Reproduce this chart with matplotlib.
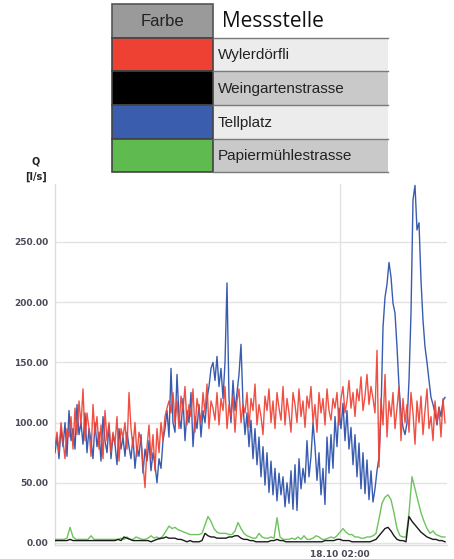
import matplotlib
matplotlib.use("Agg")
import matplotlib.pyplot as plt
from matplotlib.patches import Rectangle
import numpy as np

# ---------------- data ----------------
stations = ["Wylerdörfli", "Weingartenstrasse", "Tellplatz", "Papiermühlestrasse"]
station_colors = ["#ef4133", "#000000", "#3b5dae", "#5fba4f"]
line_colors = ["#ef4133", "#1a1a1a", "#3a5cb0", "#6cc45c"]

# sampling interval (time units) of the dense and the smooth series
step_dense = 2
step_smooth = 3
x_tick_pos = [285]
x_tick_labels = ["18.10 02:00"]
y_ticks = [0, 50, 100, 150, 200, 250]

red = [80, 92, 75, 100, 85, 70, 95, 88, 105, 78, 112, 90, 118, 98, 128, 85, 108, 95, 72, 115,
       90, 105, 78, 98, 70, 110, 85, 100, 75, 92, 82, 105, 68, 95, 88, 100, 78, 125, 95, 80,
       100, 72, 92, 85, 65, 46, 80, 98, 70, 90, 60, 95, 75, 100, 85, 105, 112, 118, 108, 125,
       100, 118, 95, 122, 110, 130, 98, 115, 105, 128, 92, 120, 110, 100, 125, 108, 132, 95, 118, 112,
       102, 125, 98, 120, 110, 130, 95, 115, 105, 122, 92, 118, 128, 100, 115, 108, 125, 96, 120, 110,
       132, 98, 115, 105, 90, 122, 110, 128, 100, 118, 95, 125, 112, 102, 130, 98, 120, 108, 92, 125,
       115, 100, 128, 105, 118, 96, 122, 112, 130, 100, 115, 92, 125, 108, 120, 98, 128, 110, 102, 120,
       112, 125, 98, 120, 130, 108, 118, 135, 112, 125, 105, 128, 118, 138, 110, 122, 140, 115, 130, 120,
       108, 160, 63, 120, 98, 140, 88, 118, 105, 125, 95, 112, 130, 85, 120, 100, 115, 92, 125, 108,
       82, 118, 100, 122, 90, 110, 128, 95, 105, 85, 118, 100, 112, 88, 120, 100]

blue = [75, 88, 70, 95, 80, 100, 72, 110, 85, 95, 78, 115, 90, 100, 82, 108, 75, 95, 85, 70,
        100, 80, 92, 68, 105, 85, 75, 98, 70, 90, 82, 65, 95, 78, 88, 72, 92, 80, 70, 88,
        62, 80, 72, 90, 58, 78, 68, 85, 60, 75, 65, 50, 70, 62, 85, 95, 110, 88, 145, 100,
        92, 140, 105, 95, 120, 85, 110, 100, 125, 80, 105, 95, 115, 88, 110, 100, 120, 130, 145, 150,
        135, 155, 130, 145, 120, 150, 216, 120, 100, 135, 110, 125, 140, 165, 115, 90, 108, 80, 102, 70,
        95, 65, 88, 55, 80, 48, 75, 42, 68, 40, 62, 35, 58, 40, 55, 30, 50, 33, 60, 28,
        65, 27, 70, 45, 62, 50, 85, 55, 72, 100, 80, 52, 75, 40, 62, 32, 88, 58, 90, 62,
        105, 80, 112, 95, 116, 85, 110, 78, 96, 65, 90, 55, 83, 45, 75, 41, 69, 36, 60, 34,
        45, 60, 71, 108, 179, 204, 215, 233, 221, 199, 191, 163, 130, 108, 96, 90, 100, 135, 191, 285,
        297, 260, 266, 218, 185, 163, 150, 135, 121, 115, 108, 98, 113, 105, 118, 121]

green = [3, 3, 3, 3, 4, 13, 5, 3, 3, 3,
         3, 3, 6, 3, 3, 3, 3, 3, 3, 3,
         3, 3, 4, 3, 5, 3, 3, 5, 4, 3,
         3, 4, 6, 4, 5, 3, 6, 10, 14, 12,
         13, 11, 10, 9, 8, 7, 7, 7, 7, 8,
         15, 22, 18, 12, 9, 8, 8, 8, 7, 7,
         10, 17, 12, 8, 6, 5, 4, 4, 8, 5,
         4, 4, 5, 4, 21, 5, 3, 3, 3, 4,
         3, 5, 3, 6, 3, 3, 4, 6, 5, 3,
         3, 4, 5, 4, 6, 9, 12, 9, 7, 7,
         5, 5, 4, 4, 5, 5, 6, 8, 20, 33,
         38, 40, 36, 25, 12, 6, 5, 5, 25, 55,
         45, 35, 25, 18, 12, 8, 10, 7, 6, 5, 5]

black = [2, 2, 2, 2, 2, 3, 2, 2, 2, 2,
         2, 2, 2, 2, 2, 2, 2, 2, 2, 2,
         2, 3, 2, 5, 4, 3, 2, 2, 2, 2,
         2, 2, 1, 2, 3, 4, 4, 5, 4, 4,
         4, 3, 3, 2, 1, 2, 1, 1, 1, 2,
         8, 6, 5, 5, 4, 4, 4, 4, 5, 5,
         6, 6, 4, 3, 3, 2, 2, 1, 1, 1,
         1, 1, 2, 2, 3, 2, 2, 1, 1, 1,
         1, 1, 1, 1, 1, 1, 1, 1, 1, 1,
         2, 2, 2, 2, 3, 3, 2, 2, 2, 1,
         1, 1, 1, 1, 1, 1, 2, 3, 6, 9,
         12, 13, 10, 6, 3, 2, 2, 1, 22, 18,
         15, 12, 9, 7, 5, 4, 3, 3, 2, 2, 1]

series = [red, black, blue, green]
steps = [step_dense, step_smooth, step_dense, step_smooth]

# ---------------- figure ----------------
W, H = 454, 559
fig = plt.figure(figsize=(W / 100, H / 100), dpi=100)
fig.patch.set_facecolor("white")

def px_rect(x0, y0, x1, y1):
    return [x0 / W, 1 - y1 / H, (x1 - x0) / W, (y1 - y0) / H]

ax = fig.add_axes(px_rect(55, 184.2, 447, 545.4))
ax.set_xlim(0, 392)
ax.set_ylim(-2, 298)

zorders = {0: 4, 1: 6, 2: 3, 3: 5}
for i in [2, 0, 3, 1]:
    ys = np.asarray(series[i], dtype=float)
    xs = np.arange(len(ys)) * steps[i]
    ax.plot(xs, ys, color=line_colors[i], lw=1.0,
            zorder=zorders[i], alpha=0.92 if i == 0 else 1.0)

ax.set_yticks(y_ticks)
ax.set_yticklabels([f"{v:.2f}" for v in y_ticks])
ax.set_xticks(x_tick_pos)
ax.set_xticklabels(x_tick_labels)
ax.tick_params(axis="both", length=0, labelsize=6.5, colors="#4a4a5a", pad=5)
ax.tick_params(axis="x", pad=3)
for lab in ax.get_yticklabels() + ax.get_xticklabels():
    lab.set_fontweight("bold")
ax.grid(True, color="#e3e3e3", lw=1.0, zorder=0)
ax.set_axisbelow(True)
for s in ["top", "right"]:
    ax.spines[s].set_visible(False)
for s in ["left", "bottom"]:
    ax.spines[s].set_color("#dcdcdc")
    ax.spines[s].set_linewidth(1.0)

# y-axis title
fig.text(36 / W, 1 - 161 / H, "Q", ha="center", va="center", fontsize=7,
         fontweight="bold", color="#222222")
fig.text(36 / W, 1 - 177 / H, "[l/s]", ha="center", va="center", fontsize=7,
         fontweight="bold", color="#222222")

# ---------------- legend table ----------------
lax = fig.add_axes([0, 0, 1, 1], zorder=10)
lax.set_xlim(0, W)
lax.set_ylim(H, 0)
lax.axis("off")
lax.patch.set_alpha(0)

cx0, cx1, lx1 = 112, 213, 388
row_edges = [4, 38, 71, 105, 139, 172]
lax.add_patch(Rectangle((cx0, row_edges[0]), cx1 - cx0, row_edges[1] - row_edges[0],
                        facecolor="#9a9a9a", edgecolor="#555555", lw=1.2))
lax.text((cx0 + cx1) / 2, (row_edges[0] + row_edges[1]) / 2 + 0.5, "Farbe",
         ha="center", va="center", fontsize=12, family="Liberation Sans",
         color="#222222")
lax.text(cx1 + 9, (row_edges[0] + row_edges[1]) / 2 + 0.5, "Messstelle",
         ha="left", va="center", fontsize=15, family="Open Sans",
         color="#111111")
label_bg = ["#ececec", "#c9c9c9", "#ececec", "#c9c9c9"]
for k, (name, col) in enumerate(zip(stations, station_colors)):
    y0, y1 = row_edges[k + 1], row_edges[k + 2]
    lax.add_patch(Rectangle((cx1, y0), lx1 - cx1, y1 - y0,
                            facecolor=label_bg[k], edgecolor="none"))
    lax.plot([cx1, lx1], [y0, y0], color="#7a7a7a", lw=1.0)
    lax.add_patch(Rectangle((cx0, y0), cx1 - cx0, y1 - y0,
                            facecolor=col, edgecolor="#444444", lw=1.2))
    lax.text(cx1 + 5, (y0 + y1) / 2 + 0.5, name, ha="left", va="center",
             fontsize=11, family="Liberation Sans", color="#222222")
lax.plot([cx1, lx1], [row_edges[-1], row_edges[-1]], color="#7a7a7a", lw=1.0)

fig.savefig("out.png", dpi=100, facecolor="white")
